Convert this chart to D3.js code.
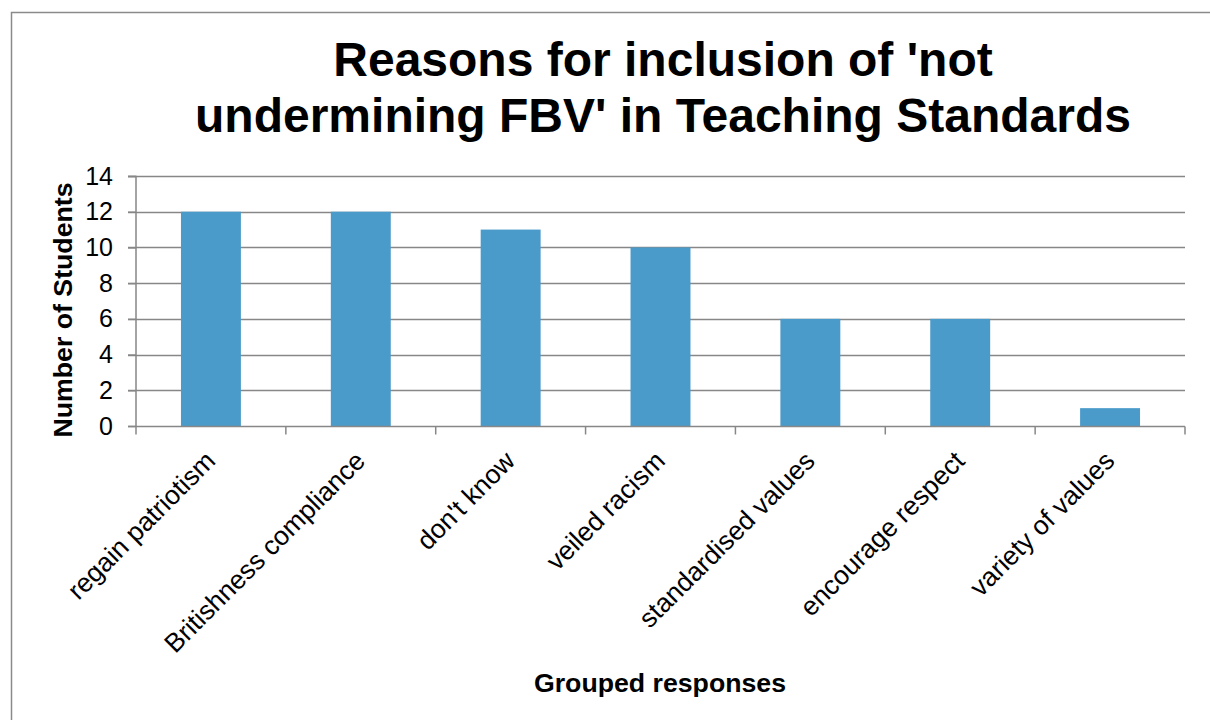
<!DOCTYPE html>
<html><head><meta charset="utf-8">
<script src="https://cdn.jsdelivr.net/npm/d3@7"></script>
<style>body{margin:0;background:#fff}svg{display:block;font-family:Arial,"Liberation Sans",sans-serif}</style>
</head><body>
<svg id="c" width="1210" height="720"></svg>
<script>
const categories = ["regain patriotism","Britishness compliance","don't know","veiled racism","standardised values","encourage respect","variety of values"];
const values = [12,12,11,10,6,6,1];
const yTicks = [0,2,4,6,8,10,12,14];
const titleLines = ["Reasons for inclusion of 'not","undermining FBV' in Teaching Standards"];
const yTitle = "Number of Students";
const xTitle = "Grouped responses";

const svg = d3.select("#c");
const m = {left:136, right:1185, top:176, bottom:426};
const x = d3.scaleBand().domain(categories).range([m.left, m.right]).paddingInner(0.6).paddingOuter(0.3);
const xb = d3.scaleBand().domain(categories).range([m.left, m.right]);
const y = d3.scaleLinear().domain([0,14]).range([m.bottom, m.top]);
const grid = "#878787";
const FONT = "Arial, Liberation Sans, sans-serif";

svg.append("rect").attr("x",11.5).attr("y",12.5).attr("width",1300).attr("height",800)
  .attr("fill","none").attr("stroke","#8a8a8a").attr("stroke-width",1.5);

// gridlines
svg.append("g").selectAll("line").data(yTicks.filter(d=>d>0)).join("line")
  .attr("x1",m.left-8).attr("x2",m.right).attr("y1",d=>Math.round(y(d))+0.5).attr("y2",d=>Math.round(y(d))+0.5)
  .attr("stroke",grid).attr("stroke-width",1.5);

// bars
svg.append("g").selectAll("rect").data(values).join("rect")
  .attr("x",(d,i)=>x(categories[i])).attr("width",x.bandwidth())
  .attr("y",d=>y(d)).attr("height",d=>y(0)-y(d)).attr("fill","#4a9bca");

// y axis
const ya = svg.append("g").attr("transform",`translate(${m.left},0)`)
  .call(d3.axisLeft(y).tickValues(yTicks).tickSize(8).tickPadding(15).tickFormat(d3.format("d")));
ya.select(".domain").attr("stroke",grid).attr("stroke-width",1.5).attr("d",`M-8,${m.top+0.5}H0V${m.bottom+0.5}`);
ya.selectAll(".tick line").attr("stroke",grid).attr("stroke-width",1.5);
ya.selectAll("text").attr("font-size",25).attr("fill","#000").attr("font-family",FONT);

// x axis
const xa = svg.append("g").attr("transform",`translate(0,${m.bottom+0.5})`);
xa.append("line").attr("x1",m.left-8).attr("x2",m.right).attr("stroke",grid).attr("stroke-width",1.5);
const bounds = categories.map(c=>xb(c)).concat([m.right]);
xa.selectAll("line.t").data(bounds).join("line").attr("class","t")
  .attr("x1",d=>d).attr("x2",d=>d).attr("y1",0).attr("y2",8).attr("stroke",grid).attr("stroke-width",1.5);
xa.selectAll("text").data(categories).join("text")
  .attr("transform",d=>`translate(${xb(d)+xb.bandwidth()/2+6},${36}) rotate(-45)`)
  .attr("text-anchor","end").attr("font-size",26.5).attr("fill","#000").attr("font-family",FONT).text(d=>d);

// titles
svg.append("text").attr("text-anchor","middle").attr("font-size",48).attr("font-weight","bold").attr("font-family",FONT)
  .selectAll("tspan").data(titleLines).join("tspan").attr("x",663).attr("y",(d,i)=>76+i*56).text(d=>d);
svg.append("text").attr("transform",`translate(72,310) rotate(-90)`).attr("text-anchor","middle")
  .attr("font-size",26.7).attr("font-weight","bold").attr("font-family",FONT).text(yTitle);
svg.append("text").attr("x",660).attr("y",692).attr("text-anchor","middle")
  .attr("font-size",26.7).attr("font-weight","bold").attr("font-family",FONT).text(xTitle);
</script>
</body></html>
